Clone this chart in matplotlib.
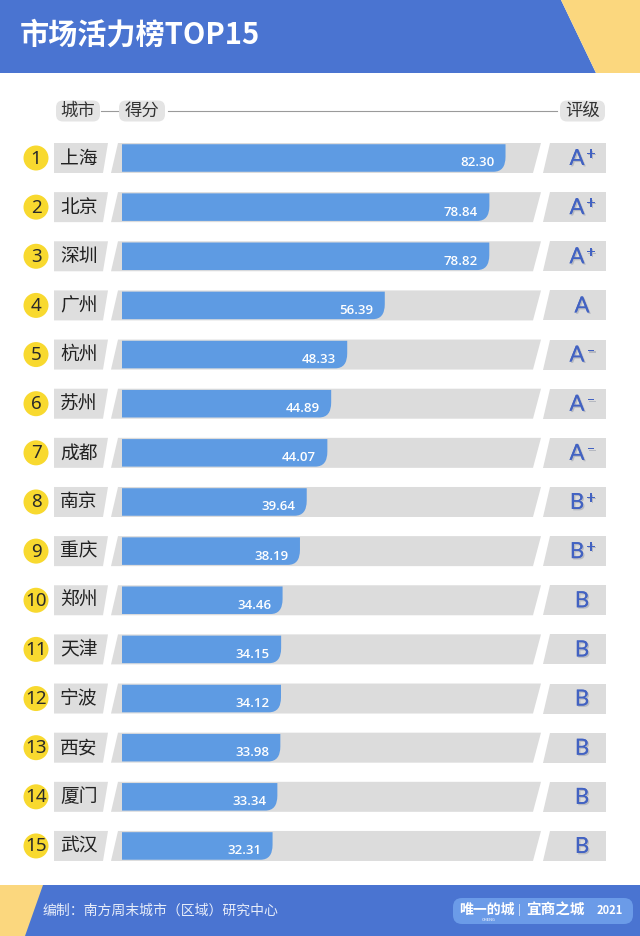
import matplotlib
matplotlib.use("Agg")
import matplotlib.pyplot as plt
import matplotlib.patheffects as pe
from matplotlib.patches import Polygon, Circle, FancyBboxPatch, PathPatch
from matplotlib.path import Path

plt.rcParams['font.family'] = ['Noto Sans CJK SC', 'DejaVu Sans']

cities = ["上海", "北京", "深圳", "广州", "杭州", "苏州", "成都", "南京",
          "重庆", "郑州", "天津", "宁波", "西安", "厦门", "武汉"]
scores = [82.30, 78.84, 78.82, 56.39, 48.33, 44.89, 44.07, 39.64,
          38.19, 34.46, 34.15, 34.12, 33.98, 33.34, 32.31]
grades = ["A+", "A+", "A+", "A", "A-", "A-", "A-", "B+",
          "B+", "B", "B", "B", "B", "B", "B"]
ranks = list(range(1, 16))

W, H = 640, 936
BLUE = "#4a74d1"
YELLOW = "#fbd77e"
BAR = "#5e9be3"
GRAY = "#dcdcdc"
GRADE = "#4262c2"

fig = plt.figure(figsize=(W / 100, H / 100), dpi=100)
bg = fig.add_axes([0, 0, 1, 1])
bg.set_xlim(0, W)
bg.set_ylim(H, 0)
bg.axis("off")

# header band
bg.add_patch(Polygon([(0, 0), (561, 0), (596, 73), (0, 73)], color=BLUE, lw=0))
bg.add_patch(Polygon([(561, 0), (W, 0), (W, 73), (596, 73)], color=YELLOW, lw=0))
bg.text(20, 35, "市场活力榜TOP15", color="white", fontsize=21, fontweight="bold",
        va="center", ha="left")

# column header
hy = 111
for x0, x1, lab in [(56, 100, "城市"), (119, 165, "得分"), (560, 605, "评级")]:
    bg.add_patch(FancyBboxPatch((x0, hy - 10.5), x1 - x0, 21,
                                boxstyle="round,pad=0,rounding_size=7",
                                fc="#e4e4e4", ec="none"))
    bg.text((x0 + x1) / 2, hy, lab, fontsize=12.5, color="#333333",
            ha="center", va="center")
bg.plot([101, 118], [hy, hy], color="#9a9a9a", lw=0.8)
bg.plot([168, 557], [hy, hy], color="#9a9a9a", lw=0.8)

# rows (decorations)
y0, dy = 158, 49.14
hh = 15
shadow = [pe.withSimplePatchShadow(offset=(1, -1), shadow_rgbFace="#7f8699", alpha=0.4),
          pe.Normal()]
for i, (rk, city, g) in enumerate(zip(ranks, cities, grades)):
    yc = y0 + i * dy
    # rank badge
    bg.add_patch(Circle((36, yc), 12.5, color="#f8d92f", lw=0))
    bg.text(36, yc + 0.5, str(rk), fontsize=13.5, color="#2a2a2a",
            ha="center", va="center", family="Noto Sans")
    # city cell
    bg.add_patch(Polygon([(54, yc - hh), (108, yc - hh), (103, yc + hh), (54, yc + hh)],
                         color="#dedede", lw=0))
    bg.text(60, yc, city, fontsize=13.5, color="#222222", ha="left", va="center")
    # track
    bg.add_patch(Polygon([(118, yc - hh), (541, yc - hh), (533, yc + hh), (111, yc + hh)],
                         color=GRAY, lw=0))
    # grade cell
    bg.add_patch(Polygon([(550, yc - hh), (606, yc - hh), (606, yc + hh), (543, yc + hh)],
                         color=GRAY, lw=0))
    letter = g[0]
    sign = g[1:]
    lx = 577 if sign else 582
    t = bg.text(lx, yc + 1, letter, fontsize=16, color=GRADE, ha="center",
                va="center", family=["Lato", "DejaVu Sans"])
    t.set_path_effects(shadow)
    if sign:
        s = bg.text(591, yc - 4, "+" if sign == "+" else "\u2013", fontsize=12, color=GRADE,
                    ha="center", va="center", family=["Lato", "DejaVu Sans"])
        s.set_path_effects(shadow)

# bars on their own axes (x in score units, y in row index)
left_px, width_px = 122, 466
top_px = y0 - 0.5 * dy
bot_px = y0 + 14.5 * dy
ax = fig.add_axes([left_px / W, 1 - bot_px / H, width_px / W, (bot_px - top_px) / H])
ax.set_xlim(0, 100)
ax.set_ylim(14.5, -0.5)
ax.axis("off")
ax.patch.set_alpha(0)

bh = 0.56
rx = 12 / (width_px / 100)
ry = 15 / dy
for i, v in enumerate(scores):
    top = i - bh / 2
    bot = i + bh / 2
    verts = [(0, top), (v, top), (v, bot - ry), (v, bot), (v - rx, bot), (0, bot), (0, top)]
    codes = [Path.MOVETO, Path.LINETO, Path.LINETO, Path.CURVE3, Path.CURVE3,
             Path.LINETO, Path.CLOSEPOLY]
    ax.add_patch(PathPatch(Path(verts, codes), fc=BAR, ec="none"))
    ax.text(v - 2.4, i + 0.1, f"{v:.2f}", color="white", fontsize=9.5,
            ha="right", va="center", family=["Open Sans", "DejaVu Sans"],
            fontweight="semibold")

# footer band
bg.add_patch(Polygon([(0, 885), (W, 885), (W, H), (0, H)], color=BLUE, lw=0))
bg.add_patch(Polygon([(0, 885), (43, 885), (25, H), (0, H)], color=YELLOW, lw=0))
bg.text(43, 911, "编制：南方周末城市（区域）研究中心", color="#e6ecf9", fontsize=10,
        ha="left", va="center")
bg.add_patch(FancyBboxPatch((453, 898), 180, 26, boxstyle="round,pad=0,rounding_size=9",
                            fc="#6b9be8", ec="none"))
bg.text(459, 910, "唯一的城", color="white", fontsize=10, fontweight="bold",
        ha="left", va="center")
bg.text(519, 910, "|", color="white", fontsize=7, ha="center", va="center")
bg.text(526, 910, "宜商之城", color="white", fontsize=10.5, fontweight="black",
        ha="left", va="center")
bg.text(597, 911, "2021", color="white", fontsize=8, fontweight="bold",
        ha="left", va="center")
bg.text(489, 920, "CHENG", color="white", fontsize=3, ha="center", va="center")

fig.savefig("out.png", dpi=100)
